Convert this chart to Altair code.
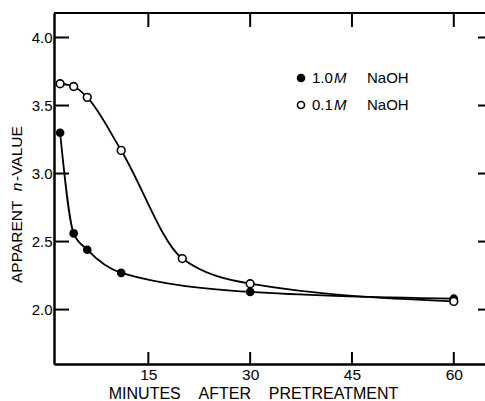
import altair as alt
import pandas as pd

# Data
t_10 = [2, 4, 6, 11, 30, 60]
n_10 = [3.30, 2.56, 2.44, 2.27, 2.13, 2.08]
t_01 = [2, 4, 6, 11, 20, 30, 60]
n_01 = [3.66, 3.64, 3.56, 3.17, 2.375, 2.19, 2.06]

x_ticks = [15, 30, 45, 60]
y_ticks = [2.0, 2.5, 3.0, 3.5, 4.0]

X_DOMAIN = [1.1, 64.6]
Y_DOMAIN = [1.6, 4.18]
W, H = 431, 351
FONT = "Liberation Sans"
NB = "\u00a0"

d10 = pd.DataFrame({"t": t_10, "n": n_10})
d01 = pd.DataFrame({"t": t_01, "n": n_01})
dxt = pd.DataFrame({"t": x_ticks})
dyt = pd.DataFrame({"n": y_ticks})
one = pd.DataFrame({"k": [0]})

xs = alt.Scale(domain=X_DOMAIN, nice=False, zero=False)
ys = alt.Scale(domain=Y_DOMAIN, nice=False, zero=False)

x_enc = alt.X("t:Q", scale=xs,
              axis=alt.Axis(values=x_ticks, ticks=False, grid=False,
                            domainColor="black", domainWidth=2.5,
                            labelFont=FONT, labelFontSize=15.5, labelColor="black",
                            labelPadding=3, labelFlush=False,
                            title="MINUTES" + NB * 4 + "AFTER" + NB * 4 + "PRETREATMENT",
                            titleFont=FONT, titleFontSize=16, titleFontWeight="normal",
                            titleColor="black", titleX=199, titleY=34,
                            titleAlign="center", titleBaseline="alphabetic"))
y_enc = alt.Y("n:Q", scale=ys,
              axis=alt.Axis(values=y_ticks, format=".1f", ticks=False, grid=False,
                            domainColor="black", domainWidth=2.5,
                            labelFont=FONT, labelFontSize=15, labelColor="black",
                            labelPadding=2, labelFlush=False, title=None))

line10 = alt.Chart(d10).mark_line(color="black", strokeWidth=1.8, interpolate="monotone").encode(x=x_enc, y=y_enc)
line01 = alt.Chart(d01).mark_line(color="black", strokeWidth=1.8, interpolate="monotone").encode(
    x=alt.X("t:Q", scale=xs), y=alt.Y("n:Q", scale=ys))
pts10 = alt.Chart(d10).mark_point(shape="circle", filled=True, color="black", size=75, opacity=1).encode(
    x=alt.X("t:Q", scale=xs), y=alt.Y("n:Q", scale=ys))
pts01 = alt.Chart(d01).mark_point(shape="circle", filled=True, fill="white", stroke="black",
                                  strokeWidth=1.6, size=60, opacity=1).encode(
    x=alt.X("t:Q", scale=xs), y=alt.Y("n:Q", scale=ys))

# frame top line and inward ticks
top_line = alt.Chart(one).mark_rule(color="black", strokeWidth=2).encode(
    x=alt.value(0), x2=alt.value(W), y=alt.value(0))
tick_left = alt.Chart(dyt).mark_rule(color="black", strokeWidth=2).encode(
    y=alt.Y("n:Q", scale=ys), x=alt.value(0), x2=alt.value(15))
tick_right = alt.Chart(dyt).mark_rule(color="black", strokeWidth=2).encode(
    y=alt.Y("n:Q", scale=ys), x=alt.value(W - 7), x2=alt.value(W))
tick_bottom = alt.Chart(dxt).mark_rule(color="black", strokeWidth=2).encode(
    x=alt.X("t:Q", scale=xs), y=alt.value(H - 12), y2=alt.value(H))
tick_top = alt.Chart(dxt).mark_rule(color="black", strokeWidth=2).encode(
    x=alt.X("t:Q", scale=xs), y=alt.value(0), y2=alt.value(14))


def txt(s, x, y, size=15, style="normal", angle=0, align="left"):
    return alt.Chart(one).mark_text(font=FONT, fontSize=size, fontStyle=style, color="black",
                                    align=align, baseline="middle", angle=angle).encode(
        x=alt.value(x), y=alt.value(y), text=alt.value(s))


# y title (rotated, with italic n)
ytitle = [
    txt("APPARENT", -37, 270, size=15.5, angle=270, align="left"),
    txt("n", -37, 174, size=15.5, style="italic", angle=270, align="center"),
    txt("-VALUE", -37, 168, size=15.5, angle=270, align="left"),
]

# legend
leg_f = alt.Chart(one).mark_point(shape="circle", filled=True, color="black", size=75, opacity=1).encode(
    x=alt.value(247), y=alt.value(65))
leg_o = alt.Chart(one).mark_point(shape="circle", filled=True, fill="white", stroke="black",
                                  strokeWidth=1.6, size=50, opacity=1).encode(
    x=alt.value(247), y=alt.value(92))
legend = [
    leg_f, leg_o,
    txt("1.0", 258, 65), txt("M", 280, 65, style="italic"), txt("NaOH", 313, 65),
    txt("0.1", 258, 92), txt("M", 280, 92, style="italic"), txt("NaOH", 313, 92),
]

chart = alt.layer(
    line10, line01, pts10, pts01,
    top_line, tick_left, tick_right, tick_bottom, tick_top,
    *ytitle, *legend,
).properties(
    width=W, height=H,
    autosize=alt.AutoSizeParams(type="none"),
    padding={"left": 54, "top": 13, "right": 0, "bottom": 37},
    background="white",
).configure_view(stroke=None)

chart.save("out.html", embed_options={"renderer": "svg", "actions": False})
